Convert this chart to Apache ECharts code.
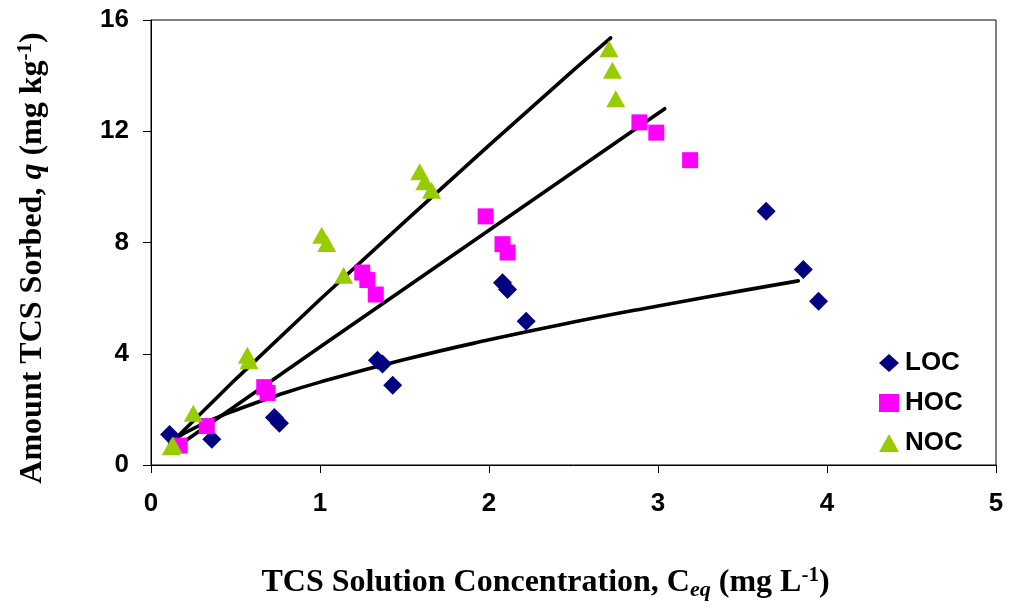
<!DOCTYPE html>
<html>
<head>
<meta charset="utf-8">
<script src="https://cdn.jsdelivr.net/npm/echarts@6/dist/echarts.min.js"></script>
<style>
html,body{margin:0;padding:0;background:#fff;}
#chart{width:1011px;height:608px;}
</style>
</head>
<body>
<div id="chart"></div>
<script>
// ---- data ----
const seriesNames = ['LOC', 'HOC', 'NOC'];

const locX = [0.11, 0.36, 0.73, 0.76, 1.34, 1.37, 1.43, 2.08, 2.11, 2.22, 3.64, 3.86, 3.95];
const locY = [1.10, 0.93, 1.71, 1.50, 3.77, 3.63, 2.87, 6.55, 6.31, 5.17, 9.12, 7.03, 5.89];

const hocX = [0.17, 0.33, 0.67, 0.69, 1.25, 1.28, 1.33, 1.98, 2.08, 2.11, 2.89, 2.99, 3.19];
const hocY = [0.70, 1.40, 2.80, 2.59, 6.92, 6.65, 6.13, 8.94, 7.94, 7.64, 12.32, 11.95, 10.96];

const nocX = [0.12, 0.13, 0.25, 0.57, 0.58, 1.01, 1.04, 1.14, 1.59, 1.62, 1.66, 2.71, 2.73, 2.75];
const nocY = [0.66, 0.72, 1.86, 3.95, 3.75, 8.26, 7.96, 6.82, 10.54, 10.18, 9.88, 14.97, 14.19, 13.17];

// fitted curves, points
const locFitX = [0.11, 0.2, 0.35, 0.5, 0.75, 1.0, 1.5, 2.0, 2.5, 3.0, 3.5, 3.83];
const locFitY = [0.80, 1.15, 1.60, 1.97, 2.51, 2.98, 3.79, 4.50, 5.14, 5.72, 6.27, 6.62];
const hocFitX = [0.17, 1.0, 2.0, 3.04];
const hocFitY = [0.73, 4.24, 8.44, 12.81];
const nocFitX = [0.12, 0.5, 1.0, 1.5, 2.0, 2.5, 2.72];
const nocFitY = [0.80, 3.08, 5.95, 8.74, 11.49, 14.20, 15.36];

const xTicks = [0, 1, 2, 3, 4, 5];
const yTicks = [0, 4, 8, 12, 16];

// ---- build ----
const zip = (xs, ys) => xs.map((x, i) => [x, ys[i]]);
const sansBold = {fontFamily: '"Liberation Sans", Arial, sans-serif', fontWeight: 'bold', color: '#000'};
const serif = '"Liberation Serif", "Times New Roman", serif';

const chart = echarts.init(document.getElementById('chart'), null, {renderer: 'canvas'});

const fitLine = (xs, ys, smooth) => ({
  type: 'line', data: zip(xs, ys), showSymbol: false, symbol: 'none',
  smooth: smooth, z: 1, silent: true, legendHoverLink: false,
  lineStyle: {color: '#000', width: 3.6, cap: 'round'}
});

chart.setOption({
  animation: false,
  backgroundColor: '#fff',
  grid: {left: 151, right: 15, top: 20, bottom: 143, show: true, borderColor: '#000', borderWidth: 1, backgroundColor: 'transparent'},
  legend: {
    data: seriesNames,
    orient: 'vertical', left: 874, top: 345,
    itemWidth: 20, itemHeight: 18, itemGap: 14,
    textStyle: Object.assign({fontSize: 26, lineHeight: 22, padding: [0,0,0,1]}, sansBold)
  },
  xAxis: {
    type: 'value', min: xTicks[0], max: xTicks[xTicks.length - 1], interval: 1,
    axisLine: {show: true, onZero: false, lineStyle: {color: '#000', width: 1}},
    axisTick: {show: true, length: 8, lineStyle: {color: '#000'}},
    splitLine: {show: false},
    axisLabel: Object.assign({fontSize: 26, margin: 26}, sansBold),
    name: '{a|TCS Solution Concentration, C}{sub|eq}{a| (mg L}{sup|-1}{a|)}',
    nameLocation: 'middle', nameGap: 100,
    nameTextStyle: {
      padding: [0, 56, 0, 0],
      rich: {
        a: {fontFamily: serif, fontWeight: 'bold', fontSize: 32, color: '#000', lineHeight: 36},
        sub: {fontFamily: serif, fontWeight: 'bold', fontStyle: 'italic', fontSize: 22, color: '#000', lineHeight: 36, padding: [14, 0, 0, 0]},
        sup: {fontFamily: serif, fontWeight: 'bold', fontSize: 21, color: '#000', lineHeight: 36, padding: [0, 0, 15, 0]}
      }
    }
  },
  yAxis: {
    type: 'value', min: yTicks[0], max: yTicks[yTicks.length - 1], interval: 4,
    axisLine: {show: true, onZero: false, lineStyle: {color: '#000', width: 1}},
    axisTick: {show: true, length: 8, lineStyle: {color: '#000'}},
    splitLine: {show: false},
    axisLabel: Object.assign({fontSize: 26, margin: 22}, sansBold),
    name: '{a|Amount TCS Sorbed, }{i|q}{a| (mg kg}{sup|-1}{a|)}',
    nameLocation: 'middle', nameGap: 100,
    nameTextStyle: {
      padding: [0, 31, 0, 0],
      rich: {
        a: {fontFamily: serif, fontWeight: 'bold', fontSize: 32, color: '#000', lineHeight: 36},
        i: {fontFamily: serif, fontWeight: 'bold', fontStyle: 'italic', fontSize: 32, color: '#000', lineHeight: 36},
        sup: {fontFamily: serif, fontWeight: 'bold', fontSize: 21, color: '#000', lineHeight: 36, padding: [0, 0, 15, 0]}
      }
    }
  },
  series: [
    fitLine(locFitX, locFitY, true),
    fitLine(hocFitX, hocFitY, false),
    fitLine(nocFitX, nocFitY, false),
    {name: 'LOC', type: 'scatter', data: zip(locX, locY), symbol: 'diamond', symbolSize: 19, z: 2,
     itemStyle: {color: '#000080', opacity: 1}},
    {name: 'HOC', type: 'scatter', data: zip(hocX, hocY), symbol: 'rect', symbolSize: 16, z: 3,
     itemStyle: {color: '#FF00FF', opacity: 1}},
    {name: 'NOC', type: 'scatter', data: zip(nocX, nocY), symbol: 'triangle', symbolSize: [19, 17], z: 4,
     itemStyle: {color: '#99CC00', opacity: 1}}
  ]
});
</script>
</body>
</html>
